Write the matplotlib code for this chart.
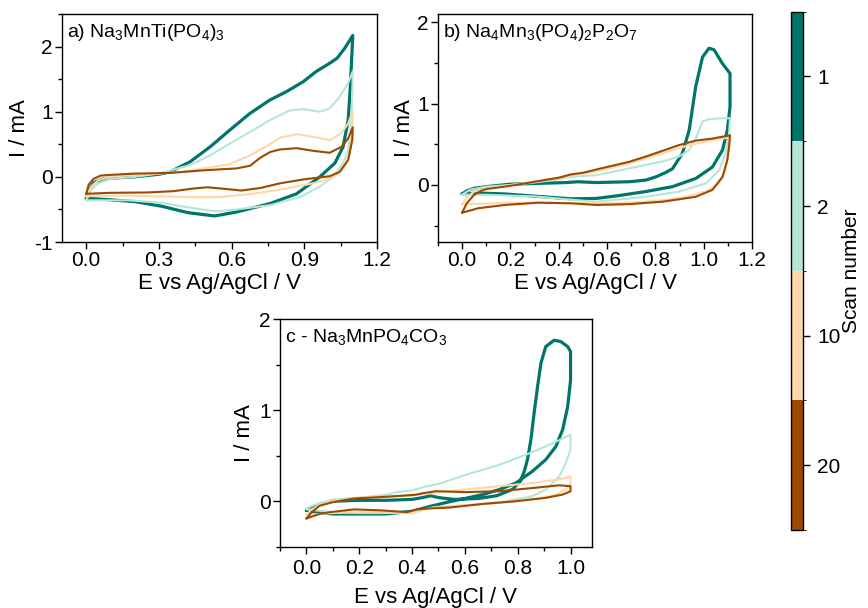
import matplotlib
matplotlib.use('Agg')
import matplotlib.pyplot as plt
from matplotlib.colors import ListedColormap, BoundaryNorm
from matplotlib.cm import ScalarMappable
from matplotlib.ticker import MultipleLocator, FormatStrFormatter

plt.rcParams['font.family'] = ['Liberation Sans', 'DejaVu Sans']
plt.rcParams['mathtext.fontset'] = 'custom'
plt.rcParams['mathtext.rm'] = 'Liberation Sans'
plt.rcParams['mathtext.it'] = 'Liberation Sans:italic'
plt.rcParams['axes.unicode_minus'] = False

# ---------------- data ----------------
scans = ['1', '2', '10', '20']
colors = ['#00756a', '#b5e7d9', '#fed7aa', '#9c4a00']

# Panel a: Na3MnTi(PO4)3
a1_fwd_E = [0, 0.01, 0.03, 0.06, 0.1, 0.2, 0.3, 0.346, 0.428, 0.511, 0.593, 0.676, 0.758, 0.827, 0.895, 0.95, 1.005, 1.035, 1.067, 1.1]
a1_fwd_I = [-0.33, -0.2, -0.09, -0.04, -0.02, 0.0, 0.04, 0.077, 0.23, 0.46, 0.72, 0.975, 1.18, 1.31, 1.46, 1.62, 1.745, 1.82, 1.975, 2.17]
a1_rev_E = [1.1, 1.09, 1.081, 1.06, 1.026, 0.964, 0.868, 0.758, 0.62, 0.53, 0.42, 0.31, 0.2, 0.09, 0.0]
a1_rev_I = [2.17, 1.385, 0.87, 0.46, 0.21, 0.0, -0.26, -0.41, -0.54, -0.6, -0.55, -0.45, -0.38, -0.35, -0.33]

a2_fwd_E = [0, 0.02, 0.05, 0.1, 0.2, 0.3, 0.428, 0.511, 0.593, 0.676, 0.758, 0.84, 0.895, 0.964, 1.005, 1.046, 1.081, 1.1]
a2_fwd_I = [-0.36, -0.2, -0.1, -0.03, 0.0, 0.05, 0.18, 0.33, 0.51, 0.69, 0.87, 1.02, 1.04, 1.0, 1.05, 1.23, 1.44, 1.62]
a2_rev_E = [1.1, 1.095, 1.081, 1.06, 1.019, 0.964, 0.882, 0.758, 0.62, 0.533, 0.423, 0.313, 0.176, 0.04, 0.0]
a2_rev_I = [1.62, 0.87, 0.41, 0.21, 0.0, -0.15, -0.31, -0.435, -0.50, -0.53, -0.47, -0.40, -0.36, -0.36, -0.36]

a10_fwd_E = [0, 0.02, 0.05, 0.1, 0.2, 0.3, 0.4, 0.483, 0.593, 0.676, 0.758, 0.799, 0.868, 0.936, 1.005, 1.053, 1.081, 1.1]
a10_fwd_I = [-0.30, -0.15, -0.05, 0.0, 0.03, 0.05, 0.08, 0.13, 0.195, 0.33, 0.5, 0.6, 0.655, 0.615, 0.565, 0.67, 0.82, 1.015]
a10_rev_E = [1.1, 1.098, 1.088, 1.067, 1.033, 0.964, 0.827, 0.689, 0.552, 0.423, 0.313, 0.176, 0.04, 0.0]
a10_rev_I = [1.015, 0.72, 0.36, 0.155, 0.026, -0.077, -0.18, -0.26, -0.31, -0.31, -0.30, -0.29, -0.29, -0.30]

a20_fwd_E = [0, 0.01, 0.03, 0.06, 0.1, 0.2, 0.346, 0.483, 0.621, 0.676, 0.717, 0.758, 0.799, 0.868, 0.936, 1.005, 1.053, 1.081, 1.1]
a20_fwd_I = [-0.26, -0.12, -0.03, 0.02, 0.03, 0.05, 0.06, 0.10, 0.13, 0.17, 0.29, 0.38, 0.42, 0.44, 0.40, 0.37, 0.46, 0.59, 0.76]
a20_rev_E = [1.1, 1.098, 1.081, 1.046, 1.005, 0.895, 0.799, 0.72, 0.64, 0.56, 0.5, 0.44, 0.36, 0.25, 0.1, 0.0]
a20_rev_I = [0.76, 0.565, 0.26, 0.077, 0.01, -0.04, -0.10, -0.17, -0.21, -0.18, -0.16, -0.18, -0.22, -0.24, -0.245, -0.26]

# Panel b: Na4Mn3(PO4)2P2O7
b1_fwd_E = [0, 0.02, 0.05, 0.1, 0.2, 0.315, 0.43, 0.48, 0.555, 0.692, 0.76, 0.802, 0.84, 0.871, 0.912, 0.94, 0.967, 0.995, 1.022, 1.043, 1.078, 1.109]
b1_fwd_I = [-0.11, -0.07, -0.04, -0.02, 0.01, 0.02, 0.03, 0.04, 0.03, 0.04, 0.06, 0.10, 0.15, 0.20, 0.39, 0.675, 1.21, 1.57, 1.68, 1.66, 1.49, 1.37]
b1_rev_E = [1.109, 1.109, 1.098, 1.078, 1.036, 0.967, 0.871, 0.761, 0.637, 0.555, 0.453, 0.315, 0.177, 0.081, 0.0]
b1_rev_I = [1.37, 0.96, 0.675, 0.43, 0.22, 0.08, -0.02, -0.08, -0.135, -0.165, -0.17, -0.14, -0.11, -0.10, -0.11]

b2_fwd_E = [0, 0.03, 0.1, 0.2, 0.3, 0.4, 0.45, 0.555, 0.692, 0.83, 0.898, 0.94, 0.967, 0.995, 1.022, 1.078, 1.109]
b2_fwd_I = [-0.12, -0.06, -0.02, 0.0, 0.03, 0.07, 0.10, 0.12, 0.205, 0.29, 0.35, 0.43, 0.57, 0.78, 0.81, 0.82, 0.82]
b2_rev_E = [1.109, 1.105, 1.091, 1.064, 1.009, 0.898, 0.761, 0.623, 0.555, 0.45, 0.3, 0.1, 0.0]
b2_rev_I = [0.82, 0.63, 0.39, 0.18, 0.02, -0.08, -0.145, -0.185, -0.205, -0.18, -0.14, -0.12, -0.12]

b10_fwd_E = [0, 0.02, 0.05, 0.1, 0.2, 0.3, 0.4, 0.45, 0.555, 0.692, 0.83, 0.94, 1.036, 1.109]
b10_fwd_I = [-0.24, -0.15, -0.08, -0.04, 0.0, 0.04, 0.09, 0.12, 0.165, 0.265, 0.39, 0.49, 0.55, 0.585]
b10_rev_E = [1.109, 1.105, 1.091, 1.064, 1.009, 0.898, 0.761, 0.623, 0.555, 0.4, 0.2, 0.05, 0.0]
b10_rev_I = [0.585, 0.47, 0.18, 0.02, -0.08, -0.165, -0.205, -0.225, -0.225, -0.22, -0.22, -0.23, -0.24]

b20_fwd_E = [0, 0.02, 0.05, 0.08, 0.1, 0.2, 0.3, 0.4, 0.45, 0.5, 0.555, 0.692, 0.761, 0.83, 0.898, 0.967, 1.036, 1.109]
b20_fwd_I = [-0.34, -0.22, -0.12, -0.07, -0.05, -0.01, 0.04, 0.09, 0.13, 0.15, 0.19, 0.285, 0.35, 0.42, 0.49, 0.545, 0.57, 0.61]
b20_rev_E = [1.109, 1.105, 1.098, 1.078, 1.036, 0.967, 0.83, 0.692, 0.555, 0.453, 0.315, 0.177, 0.067, 0.0]
b20_rev_I = [0.61, 0.47, 0.31, 0.10, -0.06, -0.145, -0.205, -0.235, -0.245, -0.225, -0.217, -0.245, -0.285, -0.34]

# Panel c: Na3MnPO4CO3
c1_fwd_E = [0, 0.02, 0.05, 0.1, 0.2, 0.3, 0.4, 0.44, 0.47, 0.5, 0.56, 0.65, 0.72, 0.78, 0.81, 0.825, 0.837, 0.85, 0.862, 0.875, 0.888, 0.906, 0.938, 0.963, 0.989, 1.0]
c1_fwd_I = [-0.10, -0.07, -0.03, 0.0, 0.01, 0.01, 0.02, 0.04, 0.06, 0.04, 0.02, 0.03, 0.06, 0.13, 0.22, 0.33, 0.46, 0.68, 0.97, 1.26, 1.52, 1.70, 1.77, 1.755, 1.70, 1.645]
c1_rev_E = [1.0, 1.0, 0.989, 0.97, 0.944, 0.906, 0.856, 0.793, 0.73, 0.667, 0.6, 0.55, 0.477, 0.4, 0.3, 0.2, 0.1, 0.03, 0.0]
c1_rev_I = [1.645, 1.33, 1.04, 0.786, 0.60, 0.457, 0.33, 0.20, 0.128, 0.073, 0.03, 0.0, -0.05, -0.11, -0.14, -0.14, -0.14, -0.12, -0.10]

c2_fwd_E = [0, 0.03, 0.1, 0.2, 0.3, 0.344, 0.4, 0.45, 0.5, 0.603, 0.73, 0.83, 0.919, 1.0]
c2_fwd_I = [-0.08, -0.04, 0.02, 0.04, 0.07, 0.10, 0.12, 0.16, 0.19, 0.29, 0.40, 0.51, 0.62, 0.73]
c2_rev_E = [1.0, 1.0, 0.982, 0.957, 0.906, 0.856, 0.755, 0.667, 0.553, 0.477, 0.4, 0.3, 0.2, 0.1, 0.0]
c2_rev_I = [0.73, 0.567, 0.42, 0.27, 0.128, 0.055, 0.0, -0.03, -0.055, -0.07, -0.12, -0.13, -0.13, -0.12, -0.09]

c10_fwd_E = [0, 0.02, 0.05, 0.1, 0.2, 0.3, 0.4, 0.44, 0.477, 0.603, 0.73, 0.856, 0.957, 1.0]
c10_fwd_I = [-0.15, -0.09, -0.04, 0.0, 0.04, 0.05, 0.06, 0.08, 0.09, 0.13, 0.165, 0.20, 0.24, 0.27]
c10_rev_E = [1.0, 1.0, 0.982, 0.944, 0.856, 0.73, 0.603, 0.477, 0.4, 0.3, 0.2, 0.1, 0.0]
c10_rev_I = [0.27, 0.19, 0.13, 0.07, 0.02, -0.02, -0.045, -0.07, -0.13, -0.12, -0.12, -0.13, -0.15]

c20_fwd_E = [0, 0.02, 0.05, 0.1, 0.18, 0.28, 0.41, 0.445, 0.49, 0.603, 0.73, 0.856, 0.957, 1.0]
c20_fwd_I = [-0.19, -0.12, -0.05, -0.01, 0.03, 0.045, 0.07, 0.09, 0.11, 0.10, 0.11, 0.145, 0.175, 0.165]
c20_rev_E = [1.0, 1.0, 0.97, 0.906, 0.793, 0.667, 0.54, 0.46, 0.42, 0.38, 0.28, 0.18, 0.09, 0.05, 0.0]
c20_rev_I = [0.165, 0.11, 0.073, 0.037, 0.0, -0.03, -0.07, -0.08, -0.09, -0.12, -0.10, -0.09, -0.12, -0.14, -0.19]

panel_titles = ['a) Na$_3$MnTi(PO$_4$)$_3$', 'b) Na$_4$Mn$_3$(PO$_4$)$_2$P$_2$O$_7$', 'c - Na$_3$MnPO$_4$CO$_3$']
xlabel = 'E vs Ag/AgCl / V'
ylabel = 'I / mA'
cbar_label = 'Scan number'

panels = [
    [(a1_fwd_E, a1_fwd_I, a1_rev_E, a1_rev_I), (a2_fwd_E, a2_fwd_I, a2_rev_E, a2_rev_I),
     (a10_fwd_E, a10_fwd_I, a10_rev_E, a10_rev_I), (a20_fwd_E, a20_fwd_I, a20_rev_E, a20_rev_I)],
    [(b1_fwd_E, b1_fwd_I, b1_rev_E, b1_rev_I), (b2_fwd_E, b2_fwd_I, b2_rev_E, b2_rev_I),
     (b10_fwd_E, b10_fwd_I, b10_rev_E, b10_rev_I), (b20_fwd_E, b20_fwd_I, b20_rev_E, b20_rev_I)],
    [(c1_fwd_E, c1_fwd_I, c1_rev_E, c1_rev_I), (c2_fwd_E, c2_fwd_I, c2_rev_E, c2_rev_I),
     (c10_fwd_E, c10_fwd_I, c10_rev_E, c10_rev_I), (c20_fwd_E, c20_fwd_I, c20_rev_E, c20_rev_I)],
]

# ---------------- figure ----------------
W, H = 868, 608
fig = plt.figure(figsize=(W / 100, H / 100), dpi=100)
axa = fig.add_axes([62 / W, 1 - 242 / H, 315 / W, 228 / H])
axb = fig.add_axes([438 / W, 1 - 242 / H, 314 / W, 228 / H])
axc = fig.add_axes([280 / W, 1 - 546.7 / H, 311.7 / W, 227.4 / H])
cax = fig.add_axes([790.7 / W, 1 - 530 / H, 12.6 / W, 518.3 / H])
axes = [axa, axb, axc]

TICK_FS = 15
LABEL_FS = 16
TITLE_FS = 14

settings = [
    dict(xlim=(-0.1, 1.2), ylim=(-1, 2.5), xmin=0.15, ymin=0.5,
         xticks=[0.0, 0.3, 0.6, 0.9, 1.2], yticks=[-1, 0, 1, 2], xpad=1.5, xlabelpad=2, ylabelpad=3),
    dict(xlim=(-0.1, 1.2), ylim=(-0.7, 2.1), xmin=0.1, ymin=0.5,
         xticks=[0.0, 0.2, 0.4, 0.6, 0.8, 1.0, 1.2], yticks=[0, 1, 2], xpad=1.5, xlabelpad=2, ylabelpad=1.5),
    dict(xlim=(-0.1, 1.08), ylim=(-0.5, 2.0), xmin=0.1, ymin=0.5,
         xticks=[0.0, 0.2, 0.4, 0.6, 0.8, 1.0], yticks=[0, 1, 2], xpad=3.5, xlabelpad=6.5, ylabelpad=3),
]

for ax, data, st, title in zip(axes, panels, settings, panel_titles):
    for (fE, fI, rE, rI), col, sc in zip(data, colors, scans):
        lw = 2.3 if sc == '1' else 1.5
        ax.plot(list(fE) + list(rE), list(fI) + list(rI), color=col, lw=lw,
                solid_joinstyle='round', solid_capstyle='round')
    ax.set_xlim(*st['xlim'])
    ax.set_ylim(*st['ylim'])
    ax.set_xticks(st['xticks'])
    ax.set_yticks(st['yticks'])
    ax.xaxis.set_minor_locator(MultipleLocator(st['xmin']))
    ax.yaxis.set_minor_locator(MultipleLocator(st['ymin']))
    ax.xaxis.set_major_formatter(FormatStrFormatter('%.1f'))
    ax.yaxis.set_major_formatter(FormatStrFormatter('%d'))
    ax.tick_params(which='major', direction='out', length=5, width=1, labelsize=TICK_FS)
    ax.tick_params(axis='x', which='major', pad=st['xpad'])
    ax.tick_params(axis='y', which='major', pad=1.5)
    ax.tick_params(which='minor', direction='out', length=3, width=1)
    for sp in ax.spines.values():
        sp.set_linewidth(1.0)
        sp.set_color('black')
    ax.set_xlabel(xlabel, fontsize=LABEL_FS, labelpad=st['xlabelpad'])
    ax.set_ylabel(ylabel, fontsize=LABEL_FS, labelpad=st['ylabelpad'])
    ax.text(0.016, 0.965, title, transform=ax.transAxes, ha='left', va='top', fontsize=TITLE_FS)

# colour bar
cmap = ListedColormap([colors[3], colors[2], colors[1], colors[0]])
norm = BoundaryNorm([0, 1, 2, 3, 4], 4)
cb = fig.colorbar(ScalarMappable(norm=norm, cmap=cmap), cax=cax, ticks=[0.5, 1.5, 2.5, 3.5])
cb.set_ticklabels([scans[3], scans[2], scans[1], scans[0]])
cb.ax.tick_params(direction='out', length=5, width=1, labelsize=TICK_FS, pad=5)
cb.outline.set_linewidth(1.0)
cb.set_label(cbar_label, fontsize=15, labelpad=1)

fig.savefig('out.png', dpi=100)
